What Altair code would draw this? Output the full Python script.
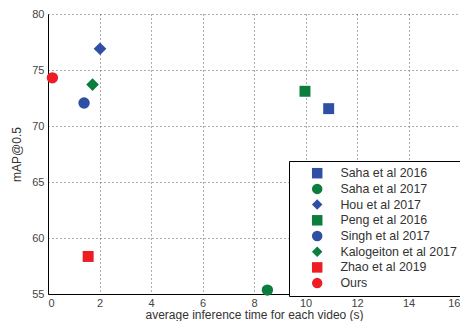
import altair as alt
import pandas as pd

methods = ["Saha et al 2016", "Saha et al 2017", "Hou et al 2017", "Peng et al 2016",
           "Singh et al 2017", "Kalogeiton et al 2017", "Zhao et al 2019", "Ours"]
inference_time = [10.9, 8.52, 2.02, 9.98, 1.4, 1.73, 1.56, 0.17]
map05 = [71.55, 55.35, 76.9, 73.1, 72.05, 73.7, 58.35, 74.3]
colors = ["#2f4fa5", "#0b7d3d", "#2f4fa5", "#0b7d3d", "#2f4fa5", "#0b7d3d", "#ee1d25", "#ee1d25"]
shapes = ["square", "circle", "diamond", "square", "circle", "diamond", "square", "circle"]
sizes = [120, 130, 160, 120, 130, 160, 120, 130]

df = pd.DataFrame({"method": methods, "time": inference_time, "map": map05, "sz": sizes})

chart = alt.Chart(df).mark_point(filled=True, opacity=1, strokeWidth=0).encode(
    x=alt.X("time:Q", title="average inference time for each video (s)",
            scale=alt.Scale(domain=[0, 16], nice=False),
            axis=alt.Axis(values=list(range(0, 17, 2)), format="d")),
    y=alt.Y("map:Q", title="mAP@0.5",
            scale=alt.Scale(domain=[55, 80], nice=False, zero=False),
            axis=alt.Axis(values=list(range(55, 81, 5)), format="d")),
    color=alt.Color("method:N", scale=alt.Scale(domain=methods, range=colors),
                    sort=methods, title=None),
    shape=alt.Shape("method:N", scale=alt.Scale(domain=methods, range=shapes),
                    sort=methods, title=None),
    size=alt.Size("sz:Q", scale=None, legend=None),
).properties(
    width=412, height=280,
    autosize=alt.AutoSizeParams(type="none"),
    padding={"left": 40, "top": 6, "right": 0, "bottom": 27},
).configure_view(stroke=None).configure_axis(
    domainColor="black", domainWidth=1, ticks=False,
    grid=True, gridColor="#333333", gridDash=[1, 3], gridWidth=1, gridOpacity=0.8,
    labelFont="Liberation Sans", labelFontSize=11, labelColor="#444444",
    titleFont="Liberation Sans", titleFontSize=12, titleFontWeight="normal", titleColor="#333333",
    labelPadding=4,
).configure_axisX(titlePadding=1, labelPadding=3).configure_axisY(titlePadding=8).configure_legend(
    orient="none", legendX=241, legendY=147,
    strokeColor="black", fillColor="white", strokeWidth=1, cornerRadius=0,
    padding=6, symbolOffset=16, symbolSize=110, symbolStrokeWidth=0,
    labelFont="Liberation Sans", labelFontSize=12.4, labelColor="#333333", labelOffset=17,
    rowPadding=2.7, labelLimit=300,
)

chart.save("out.html", embed_options={"renderer": "svg", "actions": False})
